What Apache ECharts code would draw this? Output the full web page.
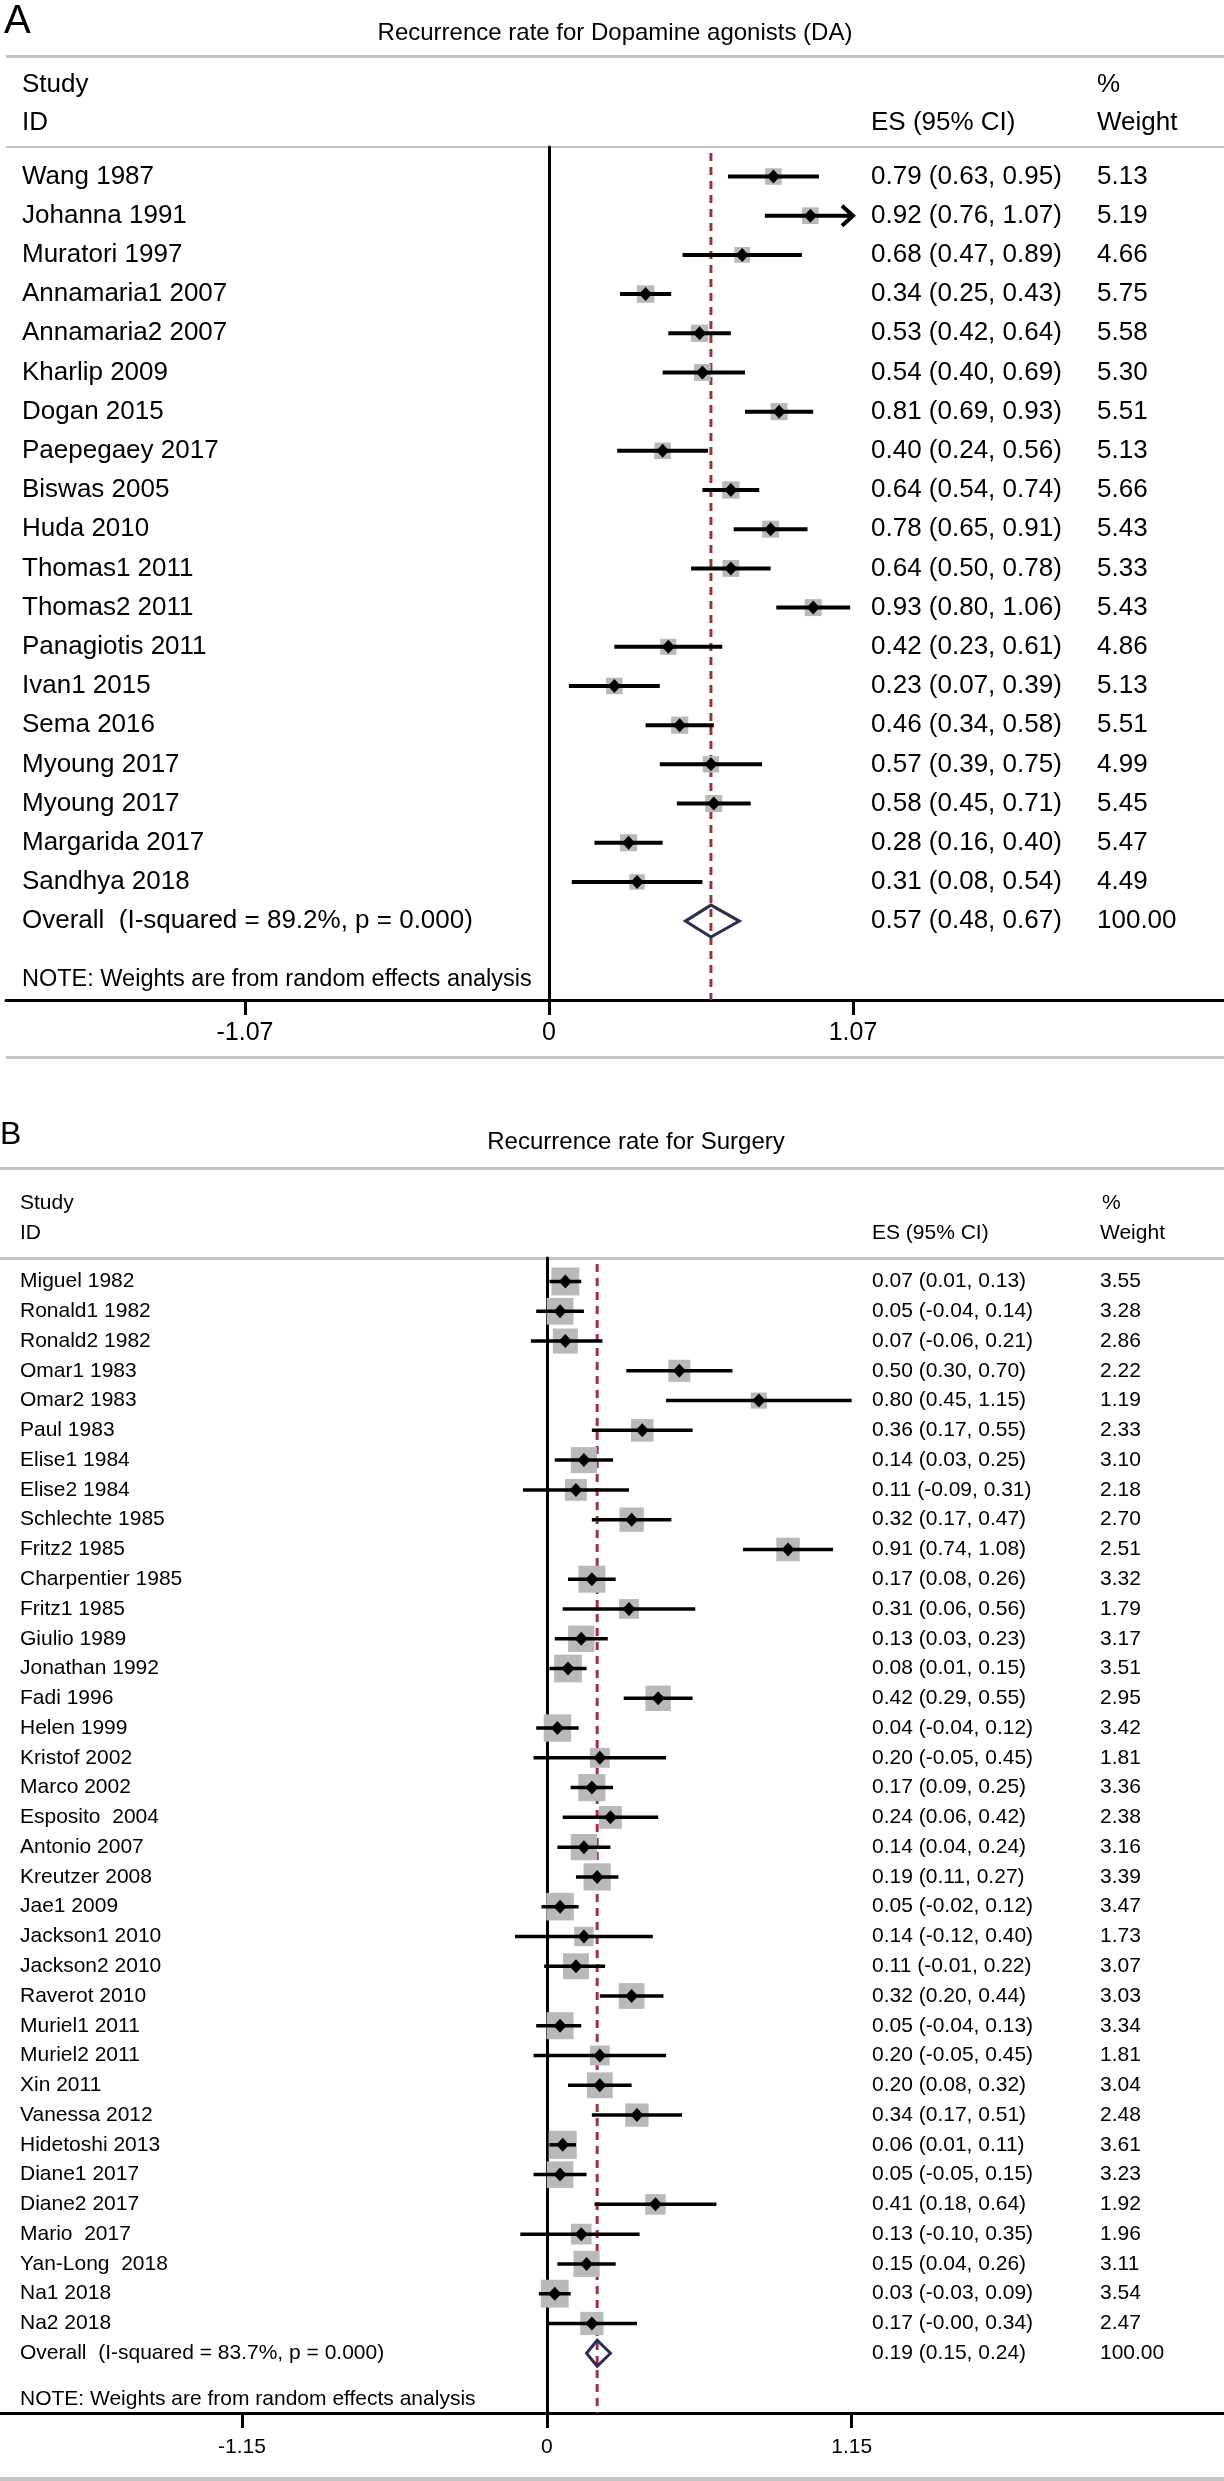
<!DOCTYPE html>
<html>
<head>
<meta charset="utf-8">
<script src="https://cdn.jsdelivr.net/npm/echarts@6/dist/echarts.min.js"></script>
<style>
html, body { margin: 0; padding: 0; background: #fff; }
#main { width: 1224px; height: 2481px; }
</style>
</head>
<body>
<div id="main"></div>
<script>
// ---------------- DATA: Panel A (Dopamine agonists) ----------------
const studiesA = ['Wang 1987', 'Johanna 1991', 'Muratori 1997', 'Annamaria1 2007', 'Annamaria2 2007',
  'Kharlip 2009', 'Dogan 2015', 'Paepegaey 2017', 'Biswas 2005', 'Huda 2010', 'Thomas1 2011',
  'Thomas2 2011', 'Panagiotis 2011', 'Ivan1 2015', 'Sema 2016', 'Myoung 2017', 'Myoung 2017',
  'Margarida 2017', 'Sandhya 2018'];
const esA = [0.79, 0.92, 0.68, 0.34, 0.53, 0.54, 0.81, 0.40, 0.64, 0.78, 0.64, 0.93, 0.42, 0.23, 0.46, 0.57, 0.58, 0.28, 0.31];
const lowerA = [0.63, 0.76, 0.47, 0.25, 0.42, 0.40, 0.69, 0.24, 0.54, 0.65, 0.50, 0.80, 0.23, 0.07, 0.34, 0.39, 0.45, 0.16, 0.08];
// Johanna's upper limit prints as 1.07 but runs past the axis end (arrow in the figure)
const upperA = [0.95, 1.074, 0.89, 0.43, 0.64, 0.69, 0.93, 0.56, 0.74, 0.91, 0.78, 1.06, 0.61, 0.39, 0.58, 0.75, 0.71, 0.40, 0.54];
const weightsA = [5.13, 5.19, 4.66, 5.75, 5.58, 5.30, 5.51, 5.13, 5.66, 5.43, 5.33, 5.43, 4.86, 5.13, 5.51, 4.99, 5.45, 5.47, 4.49];
const overallLabelA = 'Overall  (I-squared = 89.2%, p = 0.000)';
const overallA = [0.57, 0.48, 0.67, 100.00];
const ticksA = [-1.07, 0, 1.07];

// ---------------- DATA: Panel B (Surgery) ----------------
const studiesB = ['Miguel 1982', 'Ronald1 1982', 'Ronald2 1982', 'Omar1 1983', 'Omar2 1983', 'Paul 1983',
  'Elise1 1984', 'Elise2 1984', 'Schlechte 1985', 'Fritz2 1985', 'Charpentier 1985', 'Fritz1 1985',
  'Giulio 1989', 'Jonathan 1992', 'Fadi 1996', 'Helen 1999', 'Kristof 2002', 'Marco 2002',
  'Esposito  2004', 'Antonio 2007', 'Kreutzer 2008', 'Jae1 2009', 'Jackson1 2010', 'Jackson2 2010',
  'Raverot 2010', 'Muriel1 2011', 'Muriel2 2011', 'Xin 2011', 'Vanessa 2012', 'Hidetoshi 2013',
  'Diane1 2017', 'Diane2 2017', 'Mario  2017', 'Yan-Long  2018', 'Na1 2018', 'Na2 2018'];
const esB = [0.07, 0.05, 0.07, 0.50, 0.80, 0.36, 0.14, 0.11, 0.32, 0.91, 0.17, 0.31, 0.13, 0.08, 0.42, 0.04,
  0.20, 0.17, 0.24, 0.14, 0.19, 0.05, 0.14, 0.11, 0.32, 0.05, 0.20, 0.20, 0.34, 0.06, 0.05, 0.41, 0.13, 0.15, 0.03, 0.17];
const lowerB = [0.01, -0.04, -0.06, 0.30, 0.45, 0.17, 0.03, -0.09, 0.17, 0.74, 0.08, 0.06, 0.03, 0.01, 0.29, -0.04,
  -0.05, 0.09, 0.06, 0.04, 0.11, -0.02, -0.12, -0.01, 0.20, -0.04, -0.05, 0.08, 0.17, 0.01, -0.05, 0.18, -0.10, 0.04, -0.03, -0.00];
const upperB = [0.13, 0.14, 0.21, 0.70, 1.15, 0.55, 0.25, 0.31, 0.47, 1.08, 0.26, 0.56, 0.23, 0.15, 0.55, 0.12,
  0.45, 0.25, 0.42, 0.24, 0.27, 0.12, 0.40, 0.22, 0.44, 0.13, 0.45, 0.32, 0.51, 0.11, 0.15, 0.64, 0.35, 0.26, 0.09, 0.34];
const weightsB = [3.55, 3.28, 2.86, 2.22, 1.19, 2.33, 3.10, 2.18, 2.70, 2.51, 3.32, 1.79, 3.17, 3.51, 2.95, 3.42,
  1.81, 3.36, 2.38, 3.16, 3.39, 3.47, 1.73, 3.07, 3.03, 3.34, 1.81, 3.04, 2.48, 3.61, 3.23, 1.92, 1.96, 3.11, 3.54, 2.47];
const overallLabelB = 'Overall  (I-squared = 83.7%, p = 0.000)';
const overallB = [0.19, 0.15, 0.24, 100.00];
const ticksB = [-1.15, 0, 1.15];

// ---------------- LAYOUT (pixels / styles) ----------------
const FONT = '"Liberation Sans", Arial, Helvetica, sans-serif';
const font = (s) => s + 'px ' + FONT;
const RULE = '#c4c4c4';
const BOX = '#b9b9b9';
const REDDASH = '#a3303d';
const NAVY = '#2c2e52';

const LA = { gridLeft: 6, gridRight: 1224, gridTop: 147, gridBottom: 1000, zeroPx: 549, unitPx: 284.1,
  firstRowPx: 176.5, rowStep: 39.19, labelX: 22, esX: 871, wX: 1097, fontSize: 26,
  boxK: 7.3, ciWidth: 4, dw: 6.5, dh: 7, ovH: 16, tickFont: 25, tickMargin: 20.5 };
const LB = { gridLeft: 0, gridRight: 1224, gridTop: 1258, gridBottom: 2413, zeroPx: 546.8, unitPx: 265.1,
  firstRowPx: 1281.5, rowStep: 29.77, labelX: 20, esX: 872, wX: 1100, fontSize: 21,
  boxK: 14.8, ciWidth: 3.5, dw: 6.5, dh: 7, ovH: 13, tickFont: 21, tickMargin: 23.5 };

function fmt(v) { return ((v < 0 || Object.is(v, -0)) ? '-' : '') + Math.abs(v).toFixed(2); }
function esText(es, lo, hi) { return fmt(es) + ' (' + fmt(lo) + ', ' + fmt(hi) + ')'; }

function txt(str, x, y, size, align) {
  return { type: 'text', x: x, y: y, silent: true,
    style: { text: str, font: font(size), fill: '#000',
      textAlign: align || 'left', align: align || 'left',
      textVerticalAlign: 'middle', verticalAlign: 'middle' } };
}

function studyRender(L, labels, ticks) {
  const clipMax = ticks[ticks.length - 1], clipMin = ticks[0];
  return function (params, api) {
    const es = api.value(0), lo = api.value(1), hi = api.value(2), w = api.value(3), row = api.value(4);
    const y = api.coord([0, row])[1];
    const xEs = api.coord([es, row])[0];
    const xLo = api.coord([Math.max(lo, clipMin), row])[0];
    const xHi = api.coord([Math.min(hi, clipMax), row])[0];
    const s = L.boxK * Math.sqrt(w);
    const children = [
      { type: 'rect', shape: { x: xEs - s / 2, y: y - s / 2, width: s, height: s }, style: { fill: BOX } },
      { type: 'line', shape: { x1: xLo, y1: y, x2: xHi, y2: y }, style: { stroke: '#000', lineWidth: L.ciWidth } },
      { type: 'polygon', shape: { points: [[xEs - L.dw, y], [xEs, y - L.dh], [xEs + L.dw, y], [xEs, y + L.dh]] }, style: { fill: '#000' } }
    ];
    if (hi > clipMax) {
      children.push({ type: 'polyline', shape: { points: [[xHi - 11, y - 10], [xHi, y], [xHi - 11, y + 10]] },
        style: { stroke: '#000', lineWidth: L.ciWidth, fill: null } });
    }
    children.push(txt(labels[params.dataIndex], L.labelX, y, L.fontSize));
    children.push(txt(esText(es, lo, hi), L.esX, y, L.fontSize));
    children.push(txt(w.toFixed(2), L.wX, y, L.fontSize));
    return { type: 'group', children: children };
  };
}

function overallRender(L, label) {
  return function (params, api) {
    const es = api.value(0), lo = api.value(1), hi = api.value(2), w = api.value(3), row = api.value(4);
    const y = api.coord([0, row])[1];
    const xEs = api.coord([es, row])[0];
    const xLo = api.coord([lo, row])[0];
    const xHi = api.coord([hi, row])[0];
    const cs = params.coordSys;
    return { type: 'group', children: [
      { type: 'line', shape: { x1: xEs, y1: cs.y + 6, x2: xEs, y2: cs.y + cs.height },
        style: { stroke: REDDASH, lineWidth: 3, lineDash: [8, 6] } },
      { type: 'polygon', shape: { points: [[xLo, y], [xEs, y - L.ovH], [xHi, y], [xEs, y + L.ovH]] },
        style: { stroke: NAVY, lineWidth: 3, fill: null, lineJoin: 'miter' } },
      txt(label, L.labelX, y, L.fontSize),
      txt(esText(es, lo, hi), L.esX, y, L.fontSize),
      txt(w.toFixed(2), L.wX, y, L.fontSize)
    ] };
  };
}

function gridOf(L) {
  return { left: L.gridLeft, top: L.gridTop, width: L.gridRight - L.gridLeft, height: L.gridBottom - L.gridTop,
    containLabel: false, outerBoundsMode: 'none' };
}
function xAxisOf(L, ticks, gi) {
  return { type: 'value', gridIndex: gi,
    min: (L.gridLeft - L.zeroPx) / L.unitPx, max: (L.gridRight - L.zeroPx) / L.unitPx,
    axisLine: { show: true, onZero: false, lineStyle: { color: '#000', width: 3 } },
    axisTick: { show: true, customValues: ticks, length: 15, inside: false, lineStyle: { color: '#000', width: 3 } },
    axisLabel: { show: true, customValues: ticks, formatter: (v) => String(v), color: '#000',
      fontSize: L.tickFont, fontFamily: FONT, margin: L.tickMargin },
    splitLine: { show: false } };
}
function yAxisOf(L, gi) {
  return { type: 'value', gridIndex: gi, inverse: true,
    min: (L.gridTop - L.firstRowPx) / L.rowStep, max: (L.gridBottom - L.firstRowPx) / L.rowStep,
    axisLine: { show: true, onZero: true, lineStyle: { color: '#000', width: 3 } },
    axisTick: { show: false }, axisLabel: { show: false }, splitLine: { show: false } };
}

const dataA = esA.map((v, i) => [v, lowerA[i], upperA[i], weightsA[i], i]);
const dataB = esB.map((v, i) => [v, lowerB[i], upperB[i], weightsB[i], i]);

function rule(x, y, w, h) {
  return { type: 'rect', shape: { x: x, y: y, width: w, height: h }, style: { fill: RULE }, silent: true };
}

const option = {
  animation: false,
  backgroundColor: '#fff',
  grid: [gridOf(LA), gridOf(LB)],
  xAxis: [xAxisOf(LA, ticksA, 0), xAxisOf(LB, ticksB, 1)],
  yAxis: [yAxisOf(LA, 0), yAxisOf(LB, 1)],
  series: [
    { type: 'custom', xAxisIndex: 0, yAxisIndex: 0, clip: false, silent: true,
      encode: { x: [0, 1, 2], y: 4 }, renderItem: overallRender(LA, overallLabelA),
      data: [[overallA[0], overallA[1], overallA[2], overallA[3], esA.length]] },
    { type: 'custom', xAxisIndex: 0, yAxisIndex: 0, clip: false, silent: true,
      encode: { x: [0, 1, 2], y: 4 }, renderItem: studyRender(LA, studiesA, ticksA), data: dataA },
    { type: 'custom', xAxisIndex: 1, yAxisIndex: 1, clip: false, silent: true,
      encode: { x: [0, 1, 2], y: 4 }, renderItem: overallRender(LB, overallLabelB),
      data: [[overallB[0], overallB[1], overallB[2], overallB[3], esB.length]] },
    { type: 'custom', xAxisIndex: 1, yAxisIndex: 1, clip: false, silent: true,
      encode: { x: [0, 1, 2], y: 4 }, renderItem: studyRender(LB, studiesB, ticksB), data: dataB }
  ],
  graphic: [
    // Panel A decorations
    txt('A', 4, 22, 40),
    txt('Recurrence rate for Dopamine agonists (DA)', 615, 33, 24, 'center'),
    rule(6, 55, 1218, 3),
    txt('Study', 22, 85, 26), txt('ID', 22, 123, 26),
    txt('ES (95% CI)', 871, 123, 26),
    txt('%', 1097, 85, 26), txt('Weight', 1097, 123, 26),
    rule(6, 146, 1218, 2),
    txt('NOTE: Weights are from random effects analysis', 22, 980, 23.5),
    rule(6, 1056, 1218, 3),
    // Panel B decorations
    txt('B', 0, 1135, 32),
    txt('Recurrence rate for Surgery', 636, 1142, 24, 'center'),
    rule(0, 1167, 1224, 3),
    txt('Study', 20, 1203, 21), txt('ID', 20, 1233, 21),
    txt('ES (95% CI)', 872, 1233, 21),
    txt('%', 1102, 1203, 21), txt('Weight', 1100, 1233, 21),
    rule(0, 1257, 1224, 3),
    txt('NOTE: Weights are from random effects analysis', 20, 2399, 21),
    rule(0, 2477, 1224, 4)
  ]
};

const chart = echarts.init(document.getElementById('main'), null, { renderer: 'canvas' });
chart.setOption(option);
</script>
</body>
</html>
